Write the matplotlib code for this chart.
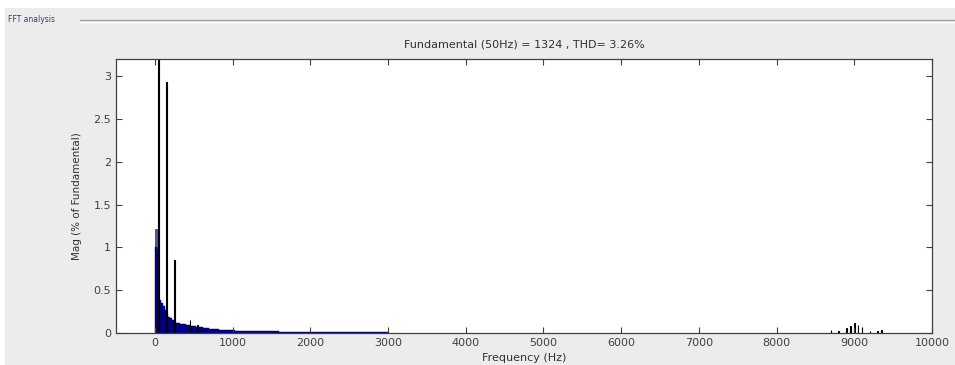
import matplotlib.pyplot as plt
from matplotlib.patches import Rectangle
from matplotlib.lines import Line2D

title = "Fundamental (50Hz) = 1324 , THD= 3.26%"
xlabel = "Frequency (Hz)"
ylabel = "Mag (% of Fundamental)"

# dense low-frequency spectrum, 25 Hz bins (0..1500 Hz)
dense_f = [0, 25, 50, 75, 100, 125, 150, 175, 200, 225, 250, 275, 300, 325,
           350, 375, 400, 425, 450, 475, 500, 525, 550, 575, 600, 625, 650,
           675, 700, 725, 750, 775, 800, 825, 850, 875, 900, 925, 950, 975,
           1000, 1025, 1050, 1075, 1100, 1125, 1150, 1175, 1200, 1225, 1250,
           1275, 1300, 1325, 1350, 1375, 1400, 1425, 1450, 1475]
dense_mag = [1.00, 0.98, 0.38, 0.35, 0.32, 0.27, 0.22, 0.19, 0.17, 0.15,
             0.13, 0.12, 0.115, 0.11, 0.105, 0.10, 0.095, 0.09, 0.085, 0.08,
             0.078, 0.075, 0.07, 0.068, 0.065, 0.06, 0.057, 0.054, 0.05,
             0.048, 0.046, 0.044, 0.042, 0.04, 0.038, 0.036, 0.034, 0.033,
             0.032, 0.031, 0.03, 0.029, 0.029, 0.028, 0.027, 0.027, 0.026,
             0.025, 0.025, 0.024, 0.024, 0.023, 0.023, 0.022, 0.022, 0.021,
             0.021, 0.02, 0.02, 0.02]

# sparse tail, 100 Hz bins (1500..3000 Hz)
tail_f = [1500, 1600, 1700, 1800, 1900, 2000, 2100, 2200, 2300, 2400, 2500,
          2600, 2700, 2800, 2900]
tail_mag = [0.018, 0.017, 0.016, 0.015, 0.014, 0.013, 0.012, 0.012, 0.011,
            0.011, 0.010, 0.009, 0.008, 0.007, 0.006]

# DC component
dc_f = [0]
dc_mag = [1.22]

# individual harmonic lines
harm_f = [50, 150, 250, 450, 550, 8700, 8800, 8900, 8950, 9000, 9050,
          9100, 9200, 9300, 9350]
harm_mag = [100.0, 2.93, 0.85, 0.15, 0.09, 0.03, 0.02, 0.06, 0.08,
            0.12, 0.09, 0.07, 0.02, 0.02, 0.03]

xticks = [0, 1000, 2000, 3000, 4000, 5000, 6000, 7000, 8000, 9000, 10000]
yticks = [0, 0.5, 1, 1.5, 2, 2.5, 3]
ytick_labels = ["0", "0.5", "1", "1.5", "2", "2.5", "3"]

W, H = 955, 365
fig = plt.figure(figsize=(W / 100, H / 100), dpi=100, facecolor="white")

# gray panel and etched group-box line
fig.patches.append(Rectangle((5 / W, 0), 1, 1 - 8 / H, transform=fig.transFigure,
                             facecolor="#ececec", edgecolor="none", zorder=-10))
fig.lines.append(Line2D([80 / W, 1], [1 - 20 / H] * 2, transform=fig.transFigure,
                        color="#a0a0a0", lw=1.0))
fig.lines.append(Line2D([80 / W, 1], [1 - 21.5 / H] * 2, transform=fig.transFigure,
                        color="white", lw=0.8))
fig.text(8 / W, 1 - 19 / H, "FFT analysis", fontsize=5.5, color="#3a3a7a",
         va="center", ha="left")

ax = fig.add_axes([116 / W, 1 - 333 / H, (932 - 116) / W, (333 - 59) / H])
ax.set_facecolor("white")

ax.bar(dc_f, dc_mag, width=40, align="edge", color="#4a5a9a",
       edgecolor="none")
ax.bar(dense_f, dense_mag, width=25, align="edge", color="#000080",
       edgecolor="#000080", linewidth=0.3)
ax.bar(tail_f, tail_mag, width=100, align="edge", color="#000080",
       edgecolor="#000060", linewidth=0.3)
ax.bar(harm_f, harm_mag, width=8, color="#000080", edgecolor="black",
       linewidth=0.8)

ax.set_xlim(-500, 10000)
ax.set_ylim(0, 3.2)
ax.set_xticks(xticks)
ax.set_yticks(yticks)
ax.set_yticklabels(ytick_labels)
ax.tick_params(direction="in", top=True, right=True, length=4,
               labelsize=8, labelcolor="#404040", color="#404040")
for s in ax.spines.values():
    s.set_color("#404040")
    s.set_linewidth(0.9)

ax.set_title(title, fontsize=8, color="#303030", pad=8)
ax.set_xlabel(xlabel, fontsize=8, color="#303030", labelpad=4)
ax.set_ylabel(ylabel, fontsize=7.5, color="#303030", labelpad=8)

fig.savefig("out.png", dpi=100, facecolor=fig.get_facecolor())
